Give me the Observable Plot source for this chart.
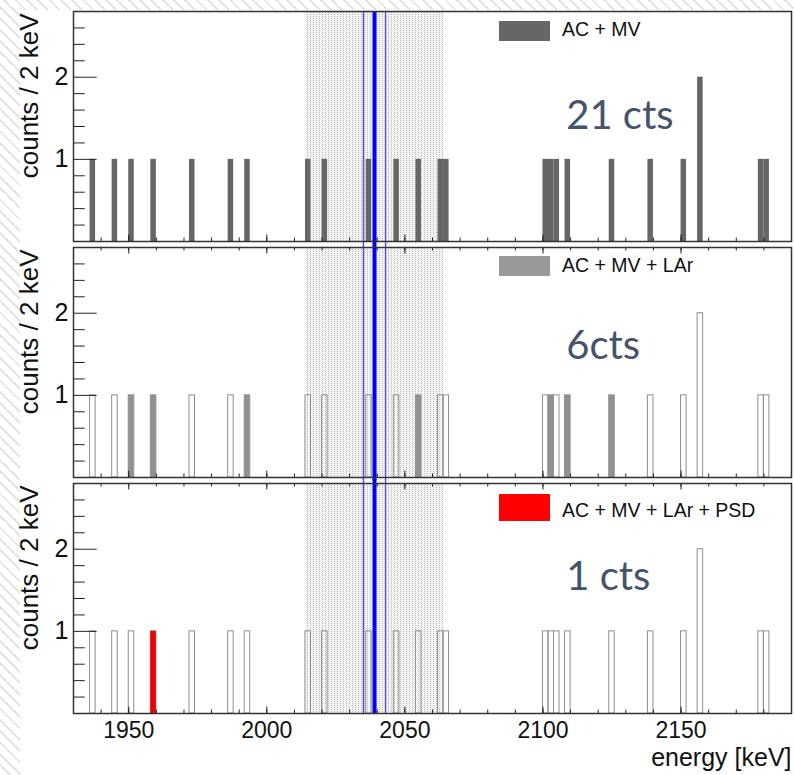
<!DOCTYPE html>
<html><head><meta charset="utf-8">
<script src="https://cdn.jsdelivr.net/npm/d3@7"></script>
<script src="https://cdn.jsdelivr.net/npm/@observablehq/plot@0.6"></script>
<style>
html,body{margin:0;padding:0;}
body{width:794px;height:775px;position:relative;overflow:hidden;
 background: repeating-linear-gradient(45deg,#ffffff 0 6px,#e4e4e4 6px 8px);}
#canvas{position:absolute;left:20px;top:10px;right:0;bottom:0;background:#fff;}
.panel{position:absolute;left:0;width:794px;}
.sw{position:absolute;left:499px;width:51px;}
.lg{position:absolute;left:562px;font:19.5px "Liberation Sans",Arial,sans-serif;line-height:19.5px;color:#111;white-space:nowrap;}
</style></head><body>
<svg width="0" height="0" style="position:absolute"><defs>
<pattern id="stipple" width="3" height="2" patternUnits="userSpaceOnUse">
<rect width="3" height="2" fill="#f3f3f3"/><rect x="1" y="0" width="1" height="1" fill="#bdbdbd"/>
</pattern></defs></svg>
<div id="canvas"></div>
<div id="p1" class="panel" style="top:0px"></div>
<div id="p2" class="panel" style="top:243px"></div>
<div id="p3" class="panel" style="top:479px"></div>
<div class="sw" style="top:20.7px;height:20.6px;background:#666666"></div>
<div class="lg" style="top:20.2px">AC + MV</div>
<div class="sw" style="top:255.7px;height:20.3px;background:#999999"></div>
<div class="lg" style="top:255.8px">AC + MV + LAr</div>
<div class="sw" style="top:494px;height:26.7px;background:#ff0000"></div>
<div class="lg" style="top:500.8px">AC + MV + LAr + PSD</div>
<script>
// ---- data ----
const energyDomain = [1930, 2190];
const countDomain = [0, 2.8];
const binEdges = d3.range(1930, 2191, 2);           // 2 keV bins
// event energies (bin centres, keV) surviving each cut stage
const acMv = [1937,1945,1951,1959,1973,1987,1993,2015,2021,2037,2047,2055,2063,2065,
              2101,2103,2105,2109,2125,2139,2151,2157,2157,2179,2181];
const acMvLar = [1951,1959,1993,2055,2103,2109,2125];
const acMvLarPsd = [1959];
const roiWindow = [[2014, 2064]];
const qbb = [2039];
const qbbBand = [2035, 2043];
const xMinorTicks = [1940,1950,1960,1970,1980,1990,2000,2010,2020,2030,2040,2050,2060,2070,2080,2090,2100,2110,2120,2130,2140,2150,2160,2170,2180];
const xMajorTicks = [1950,2000,2050,2100,2150];
const yMinorTicks = [0.2,0.4,0.6,0.8,1.2,1.4,1.6,1.8,2.2,2.4,2.6];
const yMajorTicks = [1,2];
const yTitle = "counts / 2 keV";
const xTitle = "energy [keV]";
const countLabels = ["21 cts", "6cts", "1 cts"];

// ---- layout ----
const W = 794, ML = 73, MR = 3, IH = 230, IW = W - ML - MR;
const font = '"Liberation Sans", Arial, sans-serif';

function panel({filled, filledColor, hollow, label, labelDy, mt, mb, ruleTop, ruleBottom, topTicks, xLabels}) {
  const marks = [
    Plot.rect(roiWindow, {x1: d => d[0], x2: d => d[1], fill: "url(#stipple)"}),
  ];
  if (hollow) marks.push(Plot.rectY(hollow, Plot.binX({y: "count"}, {x: d => d, thresholds: binEdges, fill: "none", stroke: "#8e8e8e", strokeWidth: 1, inset: 0})));
  marks.push(Plot.rectY(filled, Plot.binX({y: "count"}, {x: d => d, thresholds: binEdges, fill: filledColor, inset: 0})));
  marks.push(
    Plot.ruleX(qbbBand, {stroke: "#5151e0", strokeWidth: 1.4, insetTop: ruleTop, insetBottom: ruleBottom}),
    Plot.ruleX(qbb, {stroke: "#0000ff", strokeWidth: 4, insetTop: ruleTop, insetBottom: ruleBottom}),
    Plot.ruleX(xMinorTicks, {stroke: "#222", insetTop: IH - 3.5}),
    Plot.ruleX(xMajorTicks, {stroke: "#222", insetTop: IH - 6.5}),
    Plot.ruleY(yMinorTicks, {stroke: "#222", insetRight: IW - 11.7}),
    Plot.ruleY(yMajorTicks, {stroke: "#222", insetRight: IW - 23.7}),
    Plot.text(yMajorTicks, {y: d => d, text: d => String(d), frameAnchor: "left", textAnchor: "end", dx: -5, fontSize: 25, fill: "#111"}),
    Plot.text([yTitle], {frameAnchor: "top-left", rotate: -90, textAnchor: "end", lineAnchor: "bottom", dx: -36, dy: 2, fontSize: 26, fill: "#111"}),
    Plot.text([label], {frameAnchor: "top-left", textAnchor: "start", lineAnchor: "bottom", dx: 492.7, dy: labelDy, fontSize: 40, fontFamily: "Lato", fill: "#44546a"})
  );
  if (topTicks) marks.push(
    Plot.ruleX(xMinorTicks, {stroke: "#222", insetBottom: IH - 3.5}),
    Plot.ruleX(xMajorTicks, {stroke: "#222", insetBottom: IH - 6.5})
  );
  if (xLabels) marks.push(
    Plot.text(xMajorTicks, {x: d => d, text: d => String(d), frameAnchor: "bottom", lineAnchor: "top", dy: 8.5, fontSize: 23, fill: "#111"}),
    Plot.text([xTitle], {frameAnchor: "bottom-right", textAnchor: "end", lineAnchor: "bottom", dy: 52, fontSize: 25, fill: "#111"})
  );
  marks.push(Plot.frame({stroke: "#333", strokeWidth: 1.5}));
  return Plot.plot({
    width: W, height: mt + IH + mb,
    marginLeft: ML, marginRight: MR, marginTop: mt, marginBottom: mb,
    x: {domain: energyDomain, axis: null},
    y: {domain: countDomain, axis: null},
    style: {background: "transparent", fontFamily: font, overflow: "visible"},
    marks
  });
}

document.getElementById("p1").append(panel({filled: acMv, filledColor: "#666666", label: countLabels[0], labelDy: 117.3, mt: 11, mb: 2, ruleTop: 0, ruleBottom: -2}));
document.getElementById("p2").append(panel({filled: acMvLar, filledColor: "#919191", hollow: acMv, label: countLabels[1], labelDy: 111.3, mt: 4, mb: 3, ruleTop: -4, ruleBottom: -3, topTicks: true}));
document.getElementById("p3").append(panel({filled: acMvLarPsd, filledColor: "#ee0000", hollow: acMv, label: countLabels[2], labelDy: 106.5, mt: 4, mb: 63, ruleTop: -4, ruleBottom: 0, topTicks: true, xLabels: true}));
</script>
</body></html>
